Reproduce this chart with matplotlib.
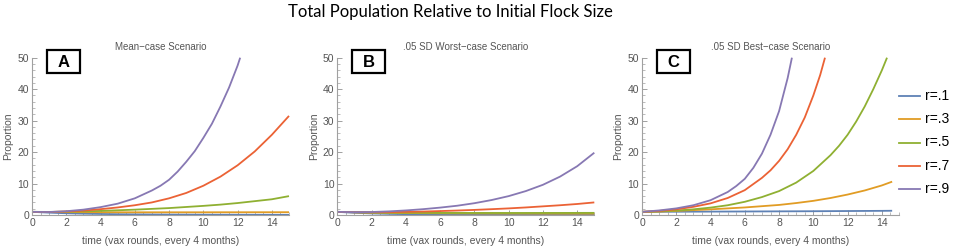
import matplotlib
matplotlib.use("Agg")
import matplotlib.pyplot as plt
from matplotlib.ticker import MultipleLocator
from matplotlib.lines import Line2D
from matplotlib.patches import Rectangle

# ---------------- data ----------------
labels = ["r=.1", "r=.3", "r=.5", "r=.7", "r=.9"]
colors = ["#5E81B5", "#E19C24", "#8FB032", "#EB6235", "#8778B3"]

T15 = [0, 1, 2, 3, 4, 5, 6, 7, 8, 9, 10, 11, 12, 13, 14, 15]

# Panel A: Mean-case Scenario
A_r1 = [1.0, 0.75, 0.55, 0.42, 0.33, 0.26, 0.21, 0.17, 0.14, 0.12, 0.1, 0.09, 0.08, 0.07, 0.06, 0.05]
A_r3 = [1.0, 0.95, 0.92, 0.9, 0.88, 0.87, 0.86, 0.86, 0.86, 0.86, 0.86, 0.87, 0.87, 0.88, 0.88, 0.89]
A_r5 = [1.0, 0.98, 1.05, 1.15, 1.3, 1.5, 1.7, 1.95, 2.2, 2.55, 2.9, 3.3, 3.8, 4.4, 5.0, 6.0]
A_r7 = [1.0, 0.95, 1.1, 1.4, 1.85, 2.4, 3.1, 4.0, 5.3, 7.0, 9.3, 12.2, 15.8, 20.2, 25.5, 31.5]
A_r9_t = [0, 1, 2, 3, 4, 5, 6, 7, 7.5, 8, 8.5, 9, 9.5, 10, 10.5, 11, 11.5, 12, 12.15]
A_r9 = [1.0, 0.95, 1.2, 1.7, 2.5, 3.6, 5.3, 7.8, 9.3, 11.2, 13.8, 16.9, 20.3, 24.5, 29.0, 34.5, 40.5, 47.5, 50.0]

# Panel B: .05 SD Worst-case Scenario
B_r1 = [1.0, 0.7, 0.5, 0.36, 0.27, 0.2, 0.15, 0.12, 0.1, 0.08, 0.07, 0.06, 0.05, 0.04, 0.04, 0.03]
B_r3 = [1.0, 0.85, 0.75, 0.68, 0.62, 0.58, 0.55, 0.52, 0.5, 0.48, 0.47, 0.46, 0.45, 0.44, 0.44, 0.43]
B_r5 = [1.0, 0.9, 0.82, 0.76, 0.72, 0.69, 0.67, 0.66, 0.65, 0.65, 0.65, 0.65, 0.66, 0.66, 0.67, 0.68]
B_r7 = [1.0, 0.9, 0.88, 0.92, 1.0, 1.1, 1.25, 1.42, 1.62, 1.85, 2.1, 2.4, 2.75, 3.1, 3.5, 4.0]
B_r9 = [1.0, 0.9, 0.95, 1.15, 1.45, 1.85, 2.35, 2.95, 3.75, 4.75, 6.0, 7.6, 9.6, 12.2, 15.5, 19.8]

# Panel C: .05 SD Best-case Scenario
C_r13_t = [0, 1, 2, 3, 4, 5, 6, 7, 8, 9, 10, 11, 12, 13, 14, 14.6]
C_r1 = [1.0, 1.02, 1.04, 1.06, 1.08, 1.1, 1.12, 1.14, 1.16, 1.18, 1.2, 1.23, 1.26, 1.29, 1.32, 1.35]
C_r3 = [1.0, 1.1, 1.3, 1.55, 1.8, 2.1, 2.4, 2.8, 3.2, 3.8, 4.5, 5.4, 6.5, 7.8, 9.4, 10.6]
C_r5_t = [0, 1, 2, 3, 4, 5, 6, 7, 8, 9, 10, 11, 11.5, 12, 12.5, 13, 13.5, 14, 14.3]
C_r5 = [1.0, 1.15, 1.4, 1.8, 2.35, 3.1, 4.2, 5.7, 7.6, 10.3, 14.0, 19.0, 22.0, 25.5, 29.7, 34.5, 40.0, 46.0, 50.0]
C_r7_t = [0, 1, 2, 3, 4, 5, 6, 7, 7.5, 8, 8.5, 9, 9.5, 10, 10.4, 10.68]
C_r7 = [1.0, 1.3, 1.8, 2.6, 3.7, 5.4, 7.9, 11.8, 14.2, 17.2, 20.9, 25.5, 31.0, 38.0, 44.5, 50.0]
C_r9_t = [0, 1, 2, 3, 4, 5, 5.5, 6, 6.5, 7, 7.5, 8, 8.5, 8.75]
C_r9 = [1.0, 1.45, 2.1, 3.1, 4.7, 7.3, 9.2, 11.5, 15.0, 19.5, 25.5, 33.0, 43.5, 50.0]

panels = [
    ("A", "Mean\u2212case Scenario",
     [(T15, A_r1), (T15, A_r3), (T15, A_r5), (T15, A_r7), (A_r9_t, A_r9)]),
    ("B", ".05 SD Worst\u2212case Scenario",
     [(T15, B_r1), (T15, B_r3), (T15, B_r5), (T15, B_r7), (T15, B_r9)]),
    ("C", ".05 SD Best\u2212case Scenario",
     [(C_r13_t, C_r1), (C_r13_t, C_r3), (C_r5_t, C_r5), (C_r7_t, C_r7), (C_r9_t, C_r9)]),
]

# ---------------- figure ----------------
W, H = 957, 250
fig = plt.figure(figsize=(W / 100, H / 100), dpi=100)


def fx(px):
    return px / W


def fy(py):
    return 1 - py / H


fig.text(fx(450), fy(12), "Total Population Relative to Initial Flock Size",
         ha="center", va="center", fontsize=12, family="Lato", color="black")

axis_grey = "#a0a0a0"
text_grey = "#555555"
lefts = [32, 337.3, 642]
ax_w = 257
ax_bottom_px = 215
ax_top_px = 57.7
ax_h = ax_bottom_px - ax_top_px

for (letter, title, series), lp in zip(panels, lefts):
    ax = fig.add_axes([fx(lp), fy(ax_bottom_px), ax_w / W, ax_h / H])
    for (t, v), c, lab in zip(series, colors, labels):
        ax.plot(t, v, color=c, lw=1.3, label=lab, clip_on=False,
                solid_capstyle="butt", solid_joinstyle="round")
    ax.set_xlim(0, 15)
    ax.set_ylim(0, 50)
    for s in ["top", "right"]:
        ax.spines[s].set_visible(False)
    for s in ["left", "bottom"]:
        ax.spines[s].set_color(axis_grey)
        ax.spines[s].set_linewidth(0.8)
    ax.set_xticks([0, 2, 4, 6, 8, 10, 12, 14])
    ax.set_yticks([0, 10, 20, 30, 40, 50])
    ax.xaxis.set_minor_locator(MultipleLocator(0.5))
    ax.yaxis.set_minor_locator(MultipleLocator(2))
    ax.tick_params(which="major", direction="in", length=3.5, width=0.7,
                   color=axis_grey, labelsize=7.5, labelcolor=text_grey, pad=2)
    ax.tick_params(which="minor", direction="in", length=2, width=0.5,
                   color=axis_grey)
    for lbl in ax.get_xticklabels() + ax.get_yticklabels():
        lbl.set_family("Liberation Sans")
    ax.set_title(title, fontsize=7, color=text_grey, family="Liberation Sans", pad=5.5)
    ax.set_xlabel("time (vax rounds, every 4 months)", fontsize=7.5,
                  color=text_grey, family="Liberation Sans", labelpad=6)
    ax.set_ylabel("Proportion", fontsize=7.5, color=text_grey,
                  family="Liberation Sans", labelpad=3)
    ax.patch.set_alpha(0)
    # letter box (pixel offsets relative to axes origin)
    bx0 = (14.7) / ax_w
    bx1 = (48.0) / ax_w
    by0 = (ax_bottom_px - 72.7) / ax_h
    by1 = (ax_bottom_px - 50.0) / ax_h
    ax.add_patch(Rectangle((bx0, by0), bx1 - bx0, by1 - by0, transform=ax.transAxes,
                           fc="white", ec="black", lw=1.6, clip_on=False, zorder=5))
    ax.text((bx0 + bx1) / 2, (by0 + by1) / 2, letter, transform=ax.transAxes,
            ha="center", va="center_baseline", fontsize=12, fontweight="bold",
            family="Liberation Sans", zorder=6)

# legend (manual placement to the right of panel C)
leg_y = [95.7, 119.0, 142.5, 165.8, 189.0]
for lab, c, yy in zip(labels, colors, leg_y):
    fig.add_artist(Line2D([fx(899), fx(920)], [fy(yy), fy(yy)], color=c, lw=1.3))
    fig.text(fx(925), fy(yy), lab, ha="left", va="center", fontsize=10,
             family="Liberation Sans", color="black")

fig.savefig("out.png", dpi=100)
